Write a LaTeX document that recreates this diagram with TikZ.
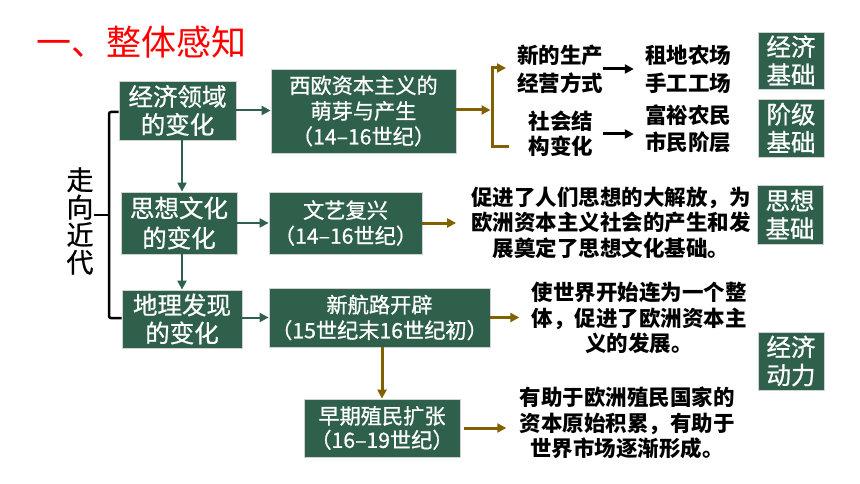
\documentclass[tikz,border=0pt]{standalone}
\usepackage{fontspec}
\setmainfont{Noto Sans CJK SC}
\newfontfamily\medfont{Noto Sans CJK SC}[FakeBold=0.8]
\usetikzlibrary{arrows.meta}
\definecolor{boxgreen}{RGB}{46,96,75}
\definecolor{arrbrown}{RGB}{128,96,0}
\definecolor{titlered}{RGB}{255,0,0}
\tikzset{
  gbox/.style={draw=gray!35, line width=0.8pt, fill=boxgreen, text=white, align=center, inner sep=0pt},
  bigtxt/.style={font=\fontsize{24.5}{28}\selectfont\medfont},
  smtxt/.style={font=\fontsize{21.2}{25.5}\selectfont\medfont},
  btxt/.style={align=center, inner sep=0pt, text=black, font=\fontsize{21.5}{25.5}\selectfont\bfseries},
  garrow/.style={draw=boxgreen, line width=2pt, -{Triangle[length=9pt,width=9pt]}},
  barrow/.style={draw=arrbrown, line width=3pt, -{Triangle[length=9pt,width=9pt]}},
  bline/.style={draw=arrbrown, line width=3pt},
  karrow/.style={draw=black, line width=3pt, -{Triangle[length=9pt,width=9pt]}},
  brace/.style={draw=black, line width=2.5pt, rounded corners=2pt}
}
\begin{document}
\begin{tikzpicture}[x=1pt,y=-1pt]
\useasboundingbox (0,0) rectangle (860,484);
\fill[white] (0,0) rectangle (860,484);

% title
\node[anchor=west, inner sep=0pt, text=titlered, font=\fontsize{35}{40}\selectfont] (title) at (36,42) {一、整体感知};

% left vertical label
\node[inner sep=0pt, align=center, font=\fontsize{27}{27.5}\selectfont\medfont] (zx) at (80,221) {走\\向\\近\\代};

% main boxes
\node[gbox, bigtxt, minimum width=117, minimum height=59] (A) at (177.5,110.5) {经济领域\\的变化};
\node[gbox, smtxt, minimum width=185, minimum height=84] (B) at (363.5,111) {西欧资本主义的\\萌芽与产生\\（14–16世纪）};
\node[gbox, minimum width=116, minimum height=62, font=\fontsize{24.5}{30}\selectfont\medfont] (C) at (179,223) {思想文化\\的变化};
\node[gbox, smtxt, minimum width=153, minimum height=62] (D) at (345.5,223) {文艺复兴\\（14–16世纪）};
\node[gbox, bigtxt, minimum width=120, minimum height=58] (E) at (182,319) {地理发现\\的变化};
\node[gbox, smtxt, minimum width=221, minimum height=59] (F) at (379.5,317.5) {新航路开辟\\（15世纪末16世纪初）};
\node[gbox, minimum width=156, minimum height=58, font=\fontsize{21.2}{24}\selectfont\medfont] (G) at (382,428) {早期殖民扩张\\（16–19世纪）};

% right labels
\node[gbox, bigtxt, minimum width=66, minimum height=57] (L1) at (791,60.5) {经济\\基础};
\node[gbox, bigtxt, minimum width=66, minimum height=58] (L2) at (791,128) {阶级\\基础};
\node[gbox, bigtxt, minimum width=66, minimum height=59] (L3) at (790,214.5) {思想\\基础};
\node[gbox, bigtxt, minimum width=66, minimum height=58] (L4) at (791,361) {经济\\动力};

% black texts
\node[btxt, font=\fontsize{21.5}{28}\selectfont\bfseries] (T1) at (560,69) {新的生产\\经营方式};
\node[btxt, font=\fontsize{21.5}{25}\selectfont\bfseries] (T2) at (561,134) {社会结\\构变化};
\node[btxt, font=\fontsize{21.5}{28}\selectfont\bfseries] (T3) at (688,69) {租地农场\\手工工场};
\node[btxt, font=\fontsize{21.5}{27}\selectfont\bfseries] (T4) at (688,128.5) {富裕农民\\市民阶层};
\node[btxt] (T5) at (611,222.5) {促进了人们思想的大解放，为\\欧洲资本主义社会的产生和发\\展奠定了思想文化基础。};
\node[btxt] (T6) at (639,318) {使世界开始连为一个整\\体，促进了欧洲资本主\\义的发展。};
\node[btxt] (T7) at (627,423) {有助于欧洲殖民国家的\\资本原始积累，有助于\\世界市场逐渐形成。};

% brace
\coordinate (brT) at (109,112);
\coordinate (brB) at (109,318);
\coordinate (brM) at (109,215);
\draw[brace] (A.west |- brT) -- (brT) -- (brB) -- (E.west |- brB);
\draw[brace, rounded corners=0pt] (brM) -- (zx.east |- brM);

% green arrows
\draw[garrow] (A.east) -- (A.east -| B.west);
\draw[garrow] (A.south -| E) -- (C.north -| E);
\draw[garrow] (C.south -| E) -- (E.north);
\draw[garrow] (C.east) -- (C.east -| D.west);
\draw[garrow] (E.east |- F.west) -- (F.west);

% brown fork
\coordinate (fk) at (492,110);
\coordinate (fkt) at (506,68);
\coordinate (fkb) at (509,147);
\draw[barrow] (B.east |- fk) -- ([xshift=-1.5pt]fk);
\draw[bline, -{Triangle[length=9pt,width=9pt]}] (fkb) -- (fkb -| fk) -- (fkt -| fk) -- (fkt);

% brown arrows
\draw[barrow, shorten >=15pt] (D.east) -- (D.east -| T5.west);
\draw[barrow, shorten >=12pt] (F.east) -- (F.east -| T6.west);
\draw[barrow] (F.south -| G) -- (G.north);
\draw[barrow, shorten <=4pt, shorten >=13pt] (G.east) -- (G.east -| T7.west);

% black arrows
\draw[karrow, shorten >=11pt] (T1.east |- T3.west) -- (T3.west);
\draw[karrow, shorten <=10pt, shorten >=11pt] (T2.east) -- (T2.east -| T4.west);
\end{tikzpicture}
\end{document}
